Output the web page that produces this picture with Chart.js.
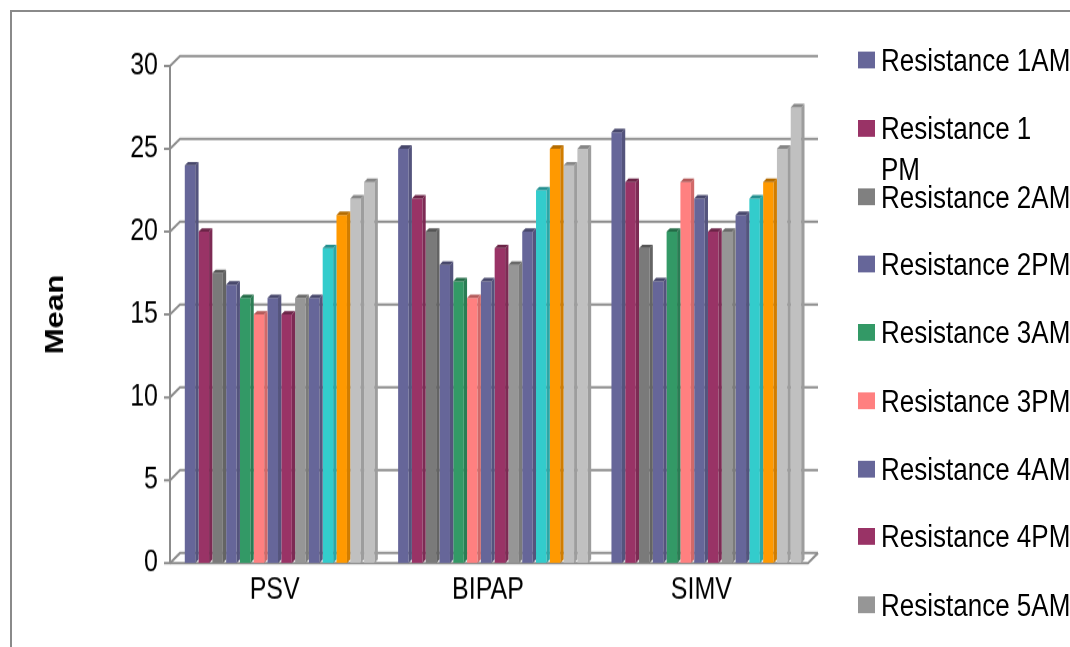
<!DOCTYPE html>
<html>
<head>
<meta charset="utf-8">
<script src="https://cdn.jsdelivr.net/npm/chart.js@4"></script>
<style>
  html, body { margin: 0; padding: 0; background: #fff; overflow: hidden; }
  body { width: 1070px; height: 647px; position: relative; font-family: "Liberation Sans", Arial, sans-serif; }
  /* the source picture is stretched a little in height, so the whole chart is drawn flat and scaled */
  #stage { position: absolute; left: 0; top: 0; width: 1070px; height: 540px; transform: scale(1, 1.2); transform-origin: 0 0; }
  #frame { position: absolute; left: 10px; top: 10px; width: 1200px; height: 800px; border: 2px solid #8a8a8a; box-sizing: border-box; }
  #legend { position: absolute; left: 0; top: 0; }
  .item { position: absolute; left: 858px; }
  .swatch { position: absolute; left: 0; width: 17px; height: 14px; }
  .label { position: absolute; left: 23px; width: 191px; font-size: 26px; line-height: 34px; color: #000; }
</style>
</head>
<body>
<div id="frame"></div>
<div id="stage">
  <canvas id="meanChart" width="1070" height="540" style="width:1070px;height:540px"></canvas>
  <div id="legend"></div>
</div>
<script>
//---------------------------------------------------------
// Data
const categories = ["PSV", "BIPAP", "SIMV"];
const seriesNames = [
  "Resistance 1AM", "Resistance 1 PM", "Resistance 2AM", "Resistance 2PM",
  "Resistance 3AM", "Resistance 3PM", "Resistance 4AM", "Resistance 4PM",
  "Resistance 5AM", "Resistance 5PM", "Resistance 6AM", "Resistance 6PM",
  "Resistance 7AM", "Resistance 7PM"
];
const psvValues   = [24, 20, 17.5, 16.8, 16, 15, 16, 15, 16, 16, 19, 21, 22, 23];
const bipapValues = [25, 22, 20, 18, 17, 16, 17, 19, 18, 20, 22.5, 25, 24, 25];
const simvValues  = [26, 23, 19, 17, 20, 23, 22, 20, 20, 21, 22, 23, 25, 27.5];
const yTicks = [0, 5, 10, 15, 20, 25, 30];

// Colours
const seriesColors = [
  "#666699", "#993366", "#7a7a7a", "#666699", "#339966", "#ff8080", "#666699",
  "#993366", "#969696", "#666699", "#33cccc", "#ff9900", "#c0c0c0", "#c0c0c0"
];
const legendColors = [
  "#666699", "#993366", "#808080", "#666699", "#339966", "#ff8080", "#666699",
  "#993366", "#969696", "#666699", "#33cccc", "#ff9900", "#c0c0c0", "#c0c0c0"
];

const FONT = '"Liberation Sans", Arial, sans-serif';
const STRETCH = 1.2;         // vertical stretch of the stage
const WALL_DX = 10;          // depth offset of the back wall
const WALL_DY = 10 / STRETCH;
const BAR_DX = 3.3;          // depth of each column
const BAR_DY = 3.5 / STRETCH;

function shade(hex, f) {
  const n = parseInt(hex.slice(1), 16);
  const r = Math.round(((n >> 16) & 255) * f), g = Math.round(((n >> 8) & 255) * f), b = Math.round((n & 255) * f);
  return `rgb(${r},${g},${b})`;
}

//---------------------------------------------------------
// 3D frame: front axis, back wall gridlines and floor
const wallFrame = {
  id: "wallFrame",
  beforeDatasetsDraw(chart) {
    const ctx = chart.ctx;
    const y = chart.scales.y;
    const fx = chart.chartArea.left - 3;
    const backRight = chart.chartArea.right + 5;
    const frontRight = backRight - WALL_DX;
    ctx.save();
    ctx.strokeStyle = "#8c8c8c";
    ctx.lineWidth = 2;
    yTicks.forEach(v => {
      const py = y.getPixelForValue(v);
      ctx.beginPath();
      ctx.moveTo(fx - 6, py); ctx.lineTo(fx, py);
      ctx.lineTo(fx + WALL_DX, py - WALL_DY);
      ctx.lineTo(backRight, py - WALL_DY);
      ctx.stroke();
      if (v === 0) {
        ctx.beginPath();
        ctx.moveTo(fx, py); ctx.lineTo(frontRight, py);
        ctx.lineTo(backRight, py - WALL_DY);
        ctx.stroke();
      }
    });
    ctx.beginPath();
    ctx.moveTo(fx, y.getPixelForValue(30));
    ctx.lineTo(fx, y.getPixelForValue(0));
    ctx.stroke();
    ctx.restore();
  }
};

//---------------------------------------------------------
// Side and top faces of every column
const columnFaces = {
  id: "columnFaces",
  afterDatasetsDraw(chart) {
    const ctx = chart.ctx;
    ctx.save();
    chart.data.datasets.forEach((ds, i) => {
      chart.getDatasetMeta(i).data.forEach(bar => {
        const { x, y, base, width } = bar.getProps(["x", "y", "base", "width"], true);
        const l = x - width / 2, r = x + width / 2;
        ctx.fillStyle = shade(ds.backgroundColor, 0.82);
        ctx.beginPath();
        ctx.moveTo(r, y); ctx.lineTo(r + BAR_DX, y - BAR_DY);
        ctx.lineTo(r + BAR_DX, base - BAR_DY); ctx.lineTo(r, base);
        ctx.closePath(); ctx.fill();
        ctx.fillStyle = shade(ds.backgroundColor, 0.7);
        ctx.beginPath();
        ctx.moveTo(l, y); ctx.lineTo(l + BAR_DX, y - BAR_DY);
        ctx.lineTo(r + BAR_DX, y - BAR_DY); ctx.lineTo(r, y);
        ctx.closePath(); ctx.fill();
      });
    });
    ctx.restore();
  }
};

//---------------------------------------------------------
// Chart
const datasets = seriesNames.map((name, i) => ({
  label: name,
  data: [psvValues[i], bipapValues[i], simvValues[i]],
  backgroundColor: seriesColors[i],
  borderWidth: 0,
  categoryPercentage: 0.905,
  barPercentage: 0.76,
}));

new Chart(document.getElementById("meanChart").getContext("2d"), {
  type: "bar",
  data: { labels: categories, datasets },
  options: {
    responsive: false,
    animation: false,
    devicePixelRatio: 1,
    layout: { padding: { left: 0, top: 55, right: 257, bottom: 0 } },
    plugins: { legend: { display: false }, tooltip: { enabled: false } },
    scales: {
      x: {
        grid: { display: false, drawTicks: false },
        border: { display: false },
        ticks: { color: "#000", font: { family: FONT, size: 25 }, padding: 8, labelOffset: -5 },
        afterFit: s => { s.height = 540 - 469.2; },
      },
      y: {
        min: 0, max: 30,
        grid: { display: false, drawTicks: false },
        border: { display: false },
        ticks: { stepSize: 5, color: "#000", font: { family: FONT, size: 25 }, padding: 15 },
        title: { display: true, text: "Mean", color: "#000", font: { family: FONT, size: 26, weight: "bold" }, padding: { top: 40, bottom: 0 } },
        afterFit: s => { s.width = 173; },
      },
    },
  },
  plugins: [wallFrame, columnFaces],
});

//---------------------------------------------------------
// Legend on the right (runs off the bottom of the picture, as in the source)
const legend = document.getElementById("legend");
seriesNames.forEach((name, i) => {
  const c = 50 + 56.75 * i;
  const item = document.createElement("div");
  item.className = "item";
  item.style.top = (c - 17) + "px";
  item.innerHTML = `<div class="swatch" style="top:${10}px;background:${legendColors[i]}"></div><div class="label">${name}</div>`;
  legend.appendChild(item);
});
</script>
</body>
</html>
